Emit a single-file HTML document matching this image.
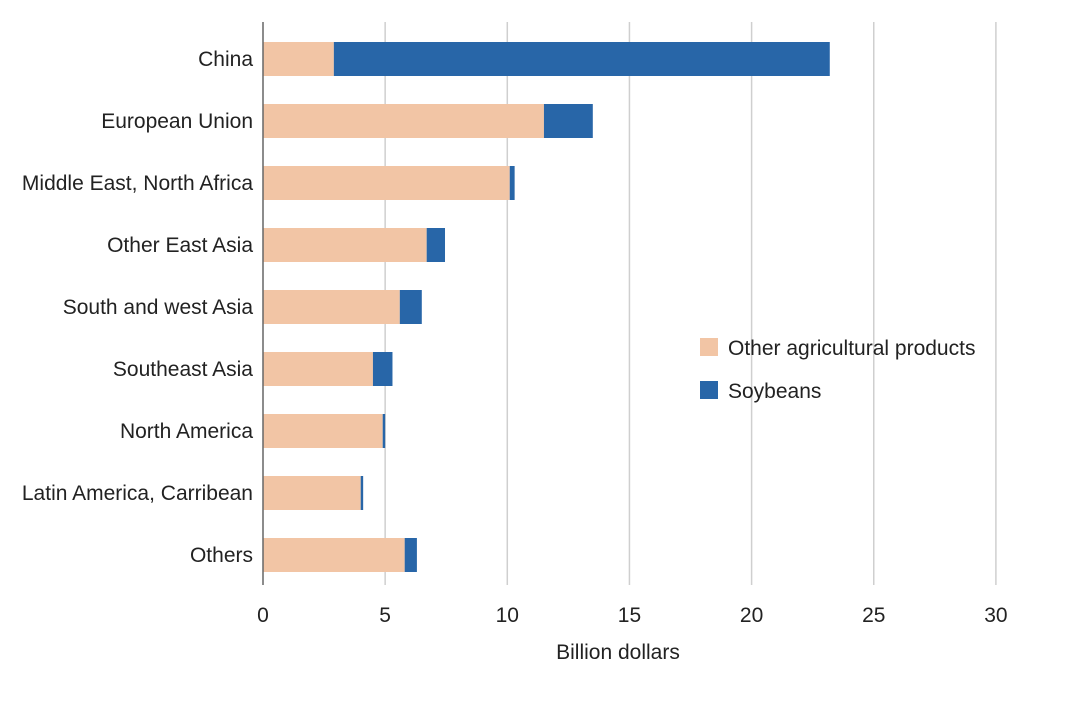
<!DOCTYPE html>
<html><head><meta charset="utf-8"><style>
body{margin:0;background:#fff;width:1080px;height:696px;overflow:hidden;font-family:"Liberation Sans",sans-serif}
</style></head><body>
<svg id="chart" width="1080" height="696" xmlns="http://www.w3.org/2000/svg" font-family="Liberation Sans, sans-serif"></svg>
<script>
const categories=["China","European Union","Middle East, North Africa","Other East Asia","South and west Asia","Southeast Asia","North America","Latin America, Carribean","Others"];
const otherAg=[2.9,11.5,10.1,6.7,5.6,4.5,4.9,4.0,5.8];
const soybeans=[20.3,2.0,0.2,0.75,0.9,0.8,0.1,0.1,0.5];
const ticks=[0,5,10,15,20,25,30];
const NS="http://www.w3.org/2000/svg";
const svg=document.getElementById('chart');
const x=v=>263+v*24.43;
const yc=i=>59+i*62;
function el(t,a){const e=document.createElementNS(NS,t);for(const k in a)e.setAttribute(k,a[k]);svg.appendChild(e);return e;}
ticks.forEach(t=>{
 if(t>0){const g=el('line',{x1:x(t),x2:x(t),y1:22,y2:585,stroke:'#cfcfcf','stroke-width':1.5});
 
 }
 const l=el('text',{x:x(t),y:622,'text-anchor':'middle','font-size':21,fill:'#222'});l.textContent=t;
 
 
});
categories.forEach((c,i)=>{
 const b1=el('rect',{x:x(0),y:yc(i)-17,width:x(otherAg[i])-x(0),height:34,fill:'#f2c5a5'});
 
 
 const b2=el('rect',{x:x(otherAg[i]),y:yc(i)-17,width:x(otherAg[i]+soybeans[i])-x(otherAg[i]),height:34,fill:'#2866a8'});
 
 
 const t=el('text',{x:253,y:yc(i)+7,'text-anchor':'end','font-size':21,fill:'#222'});t.textContent=c;
 
 
});
const ax=el('line',{x1:263,x2:263,y1:22,y2:585,stroke:'#666','stroke-width':1.5});


const xt=el('text',{x:618,y:659,'text-anchor':'middle','font-size':21,fill:'#222'});xt.textContent='Billion dollars';


const lg=[['Other agricultural products','#f2c5a5',338],['Soybeans','#2866a8',381]];
lg.forEach((d,i)=>{
 const r=el('rect',{x:700,y:d[2],width:18,height:18,fill:d[1]});
 
 
 const t=el('text',{x:728,y:d[2]+17,'font-size':21,fill:'#222'});t.textContent=d[0];
 
 
});
</script>
</body></html>
